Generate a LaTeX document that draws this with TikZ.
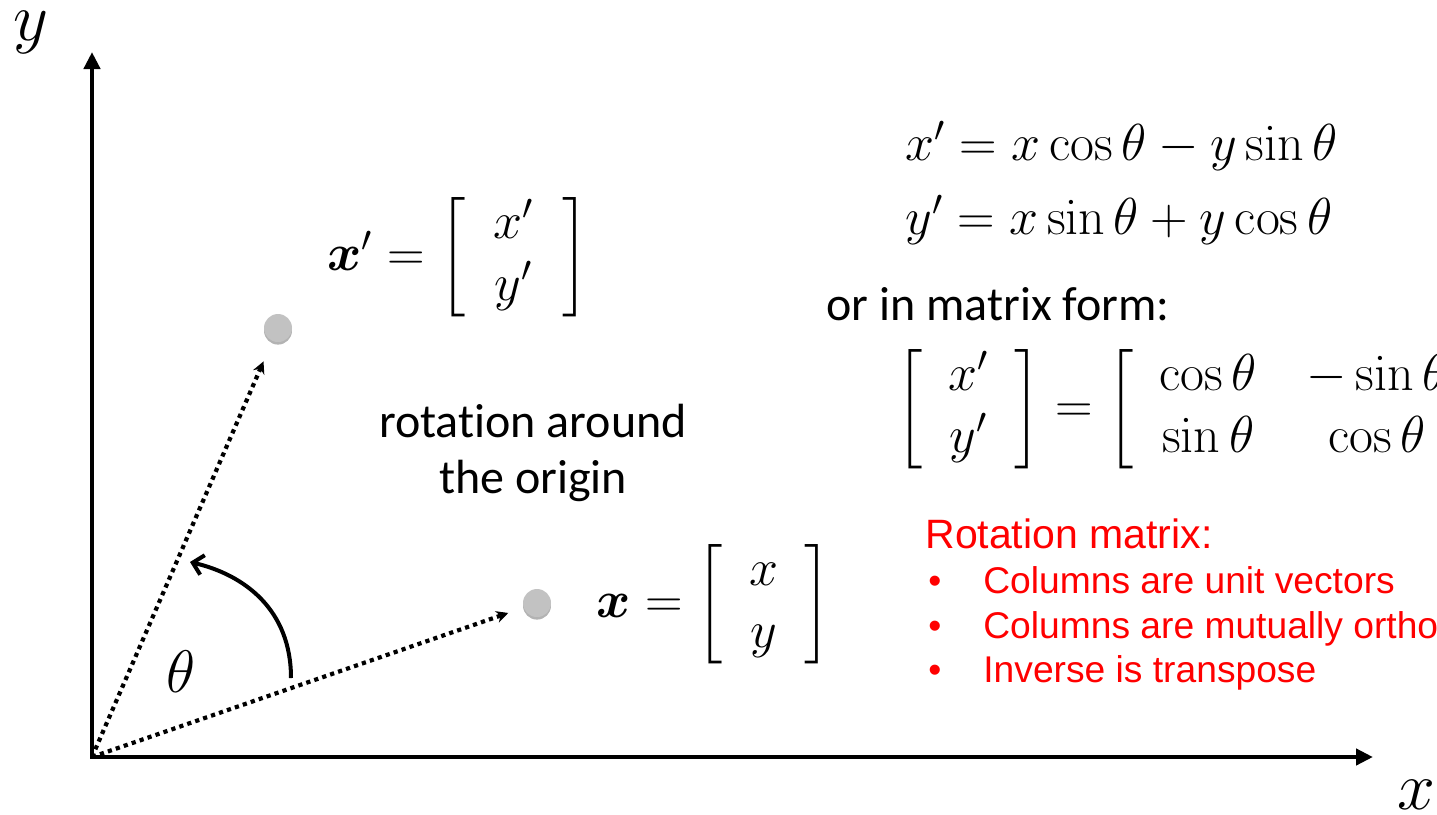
\RequirePackage{fix-cm}
\documentclass[tikz,border=0pt]{standalone}
\usepackage{amsmath}
\usepackage{bm}
\usepackage[no-math]{fontspec}
\newfontfamily\calibri[Ligatures={NoCommon}]{Carlito}
\newfontfamily\arial{Liberation Sans}
\usetikzlibrary{positioning, arrows.meta, shadows}

\newcommand{\colvec}[3][0.5em]{\left[\begin{array}{@{\hspace{#1}}c@{\hspace{#1}}} #2 \\ #3 \end{array}\right]}

\begin{document}
\begin{tikzpicture}[
    x=0.5pt, y=-0.5pt,
    axis/.style={
        {Triangle[length=8.5pt,width=8pt]}-{Triangle[length=8.5pt,width=8pt]},
        line width=2.2pt
    },
    ray/.style={
        -{Stealth[length=6pt,width=6pt]},
        line width=2.1pt,
        dash pattern=on 2.1pt off 2.1pt
    },
    turn/.style={
        -{Straight Barb[length=5pt,width=10pt]},
        line width=2pt
    },
    dot/.style={
        circle,
        fill=gray!48,
        minimum size=14pt,
        inner sep=0pt,
        drop shadow={shadow xshift=0pt, shadow yshift=-1.3pt, fill=gray, opacity=0.6}
    },
    axislabel/.style={inner sep=0pt, font=\fontsize{34}{40}\selectfont},
    mathlabel/.style={inner sep=0pt, font=\fontsize{26}{31}\selectfont},
    slide/.style={inner sep=0pt, align=center, font=\calibri\fontsize{24}{28}\selectfont},
    notetitle/.style={inner sep=0pt, text=red, font=\arial\fontsize{20.5}{24}\selectfont},
    noteitem/.style={inner sep=0pt, text=red, font=\arial\fontsize{18.6}{22}\selectfont}
]

\useasboundingbox (0,0) rectangle (1437,815);
\clip (0,0) rectangle (1437,815);

\coordinate (origin) at (92,757);
\coordinate (ytip) at (92,52);
\coordinate (xtip) at (1373,757);

\draw[axis] (ytip) -- (origin) -- (xtip);

\node[axislabel] (ylabel) at (31,32) {$y$};
\node[axislabel] (xlabel) at (1416,795) {$x$};

\node[dot] (xdot) at (537,603) {};
\node[dot] (xpdot) at (278,328) {};

\draw[ray, shorten >=8pt] (origin) -- (xdot);
\draw[ray, shorten >=11pt] (origin) -- (xpdot);

\coordinate (arcstart) at (291,678);
\coordinate (arcend) at (190,562);
\draw[turn] (arcstart) .. controls (291,610) and (245,575) .. (arcend);

\node[axislabel, font=\fontsize{30}{36}\selectfont] (theta) at (181,672) {$\theta$};

\node[mathlabel, anchor=west] (xplabel) at (327,257)
    {$\bm{x}' = \colvec[0.55em]{x'}{y'}$};

\node[mathlabel, anchor=west] (xvlabel) at (596,604)
    {$\bm{x} = \colvec{x}{y}$};

\node[slide] (rotation) at (533,453) {rotation around\\the origin};

\node[mathlabel, anchor=base west] (eqx) at (905,160)
    {$x' = x\cos\theta - y\sin\theta$};

\node[mathlabel, anchor=base west] (eqy) at (905,234)
    {$y' = x\sin\theta + y\cos\theta$};

\node[slide, anchor=base west] (matrixform) at (826,320) {or in matrix form:};

\node[mathlabel, anchor=west] (matrixeq) at (896,409)
    {$\colvec{x'}{y'} = \left[\begin{array}{@{\hspace{0.5em}}c@{\hspace{0.95em}}c@{\hspace{0.5em}}} \cos\theta & -\sin\theta \\ \sin\theta & \cos\theta \end{array}\right]$};

\node[notetitle, anchor=base west] (rottitle) at (925,548) {Rotation matrix:};

\node[noteitem, anchor=base west] (unitcols) at (928,593)
    {\makebox[27.5pt][l]{•}Columns are unit vectors};

\node[noteitem, anchor=base west] (orthocols) at (928,638)
    {\makebox[27.5pt][l]{•}Columns are mutually ortho};

\node[noteitem, anchor=base west] (inverse) at (928,682)
    {\makebox[27.5pt][l]{•}Inverse is transpose};

\end{tikzpicture}
\end{document}
